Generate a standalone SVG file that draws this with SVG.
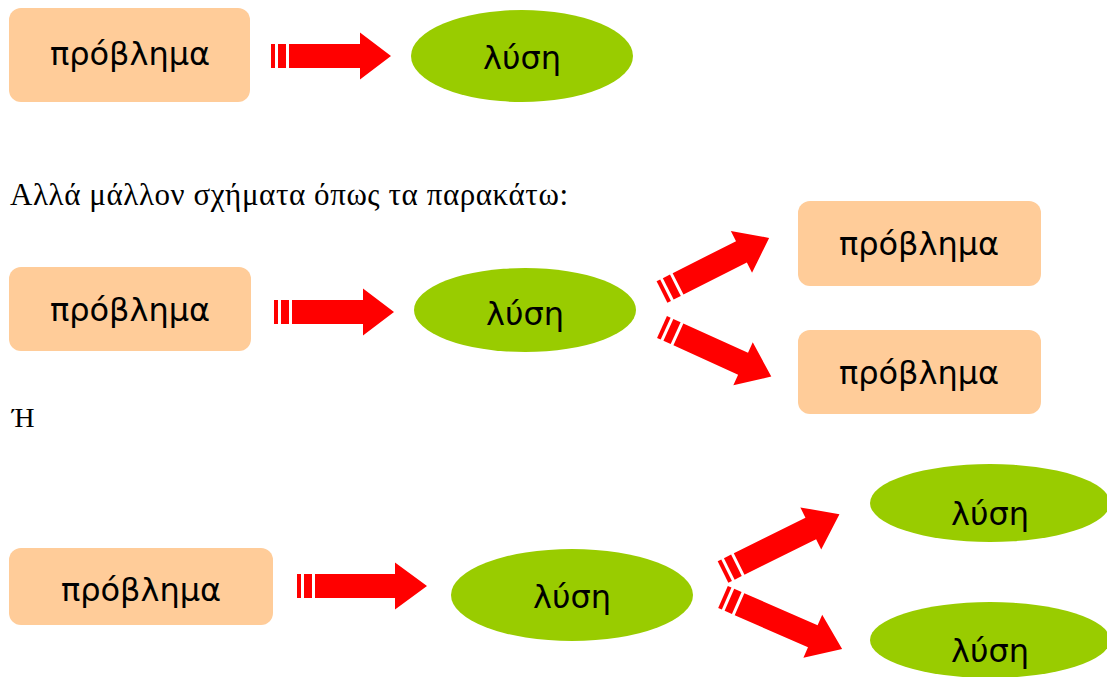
<svg xmlns="http://www.w3.org/2000/svg" xmlns:xlink="http://www.w3.org/1999/xlink" width="1107" height="677" viewBox="0 0 1107 677">
<style>
.prob{fill:#FFCC99}
.sol{fill:#99CC00}
.lbl{font-family:"DejaVu Sans","Noto Sans",sans-serif;font-size:32px;fill:#000;text-anchor:middle}
.body{font-family:"Liberation Serif","Times New Roman",serif;font-size:31px;fill:#000}
.arr{fill:#FF0000}
</style>
<defs>
<g id="a120" class="arr">
<rect x="0" y="-12" width="4" height="24"/>
<rect x="7" y="-12" width="8" height="24"/>
<polygon points="18,-12 89,-12 89,-23.5 120,0 89,23.5 89,12 18,12"/>
</g>
<g id="a130" class="arr">
<rect x="0" y="-12" width="4" height="24"/>
<rect x="7" y="-12" width="8" height="24"/>
<polygon points="18,-12 98,-12 98,-23.5 130,0 98,23.5 98,12 18,12"/>
</g>
</defs>
<rect width="1107" height="677" fill="#fff"/>
<g id="connectors">
<use xlink:href="#a120" transform="translate(271,56)"/>
<use xlink:href="#a120" transform="translate(274,312)"/>
<use xlink:href="#a120" transform="translate(662,292) rotate(-26.8)"/>
<use xlink:href="#a120" transform="translate(662,327) rotate(24.4)"/>
<use xlink:href="#a130" transform="translate(297,586)"/>
<use xlink:href="#a130" transform="translate(723,572) rotate(-26.4)"/>
<use xlink:href="#a130" transform="translate(723,597) rotate(23.6)"/>
</g>
<g id="n1"><rect class="prob" x="9" y="8" width="241" height="94" rx="12"/><text class="lbl" x="130" y="65">πρόβλημα</text></g>
<g id="n2"><ellipse class="sol" cx="522" cy="56" rx="111" ry="46"/><text class="lbl" x="522" y="69">λύση</text></g>
<text class="body" x="10" y="205" textLength="558" lengthAdjust="spacing">Αλλά μάλλον σχήματα όπως τα παρακάτω:</text>
<g id="n3"><rect class="prob" x="9" y="267" width="242" height="84" rx="12"/><text class="lbl" x="130" y="321">πρόβλημα</text></g>
<g id="n4"><ellipse class="sol" cx="525" cy="310" rx="111" ry="42"/><text class="lbl" x="525" y="325">λύση</text></g>
<g id="n5"><rect class="prob" x="798" y="201" width="243" height="85" rx="12"/><text class="lbl" x="919" y="255">πρόβλημα</text></g>
<g id="n6"><rect class="prob" x="798" y="330" width="243" height="84" rx="12"/><text class="lbl" x="919" y="384">πρόβλημα</text></g>
<text class="body" x="12" y="427" style="font-size:28px">Ή</text>
<g id="n7"><rect class="prob" x="9" y="548" width="264" height="77" rx="12"/><text class="lbl" x="141" y="601">πρόβλημα</text></g>
<g id="n8"><ellipse class="sol" cx="572" cy="595" rx="121" ry="46"/><text class="lbl" x="572" y="608">λύση</text></g>
<g id="n9"><ellipse class="sol" cx="990" cy="503" rx="120" ry="39"/><text class="lbl" x="990" y="525">λύση</text></g>
<g id="n10"><ellipse class="sol" cx="990" cy="640" rx="120" ry="38"/><text class="lbl" x="990" y="662">λύση</text></g>
</svg>
